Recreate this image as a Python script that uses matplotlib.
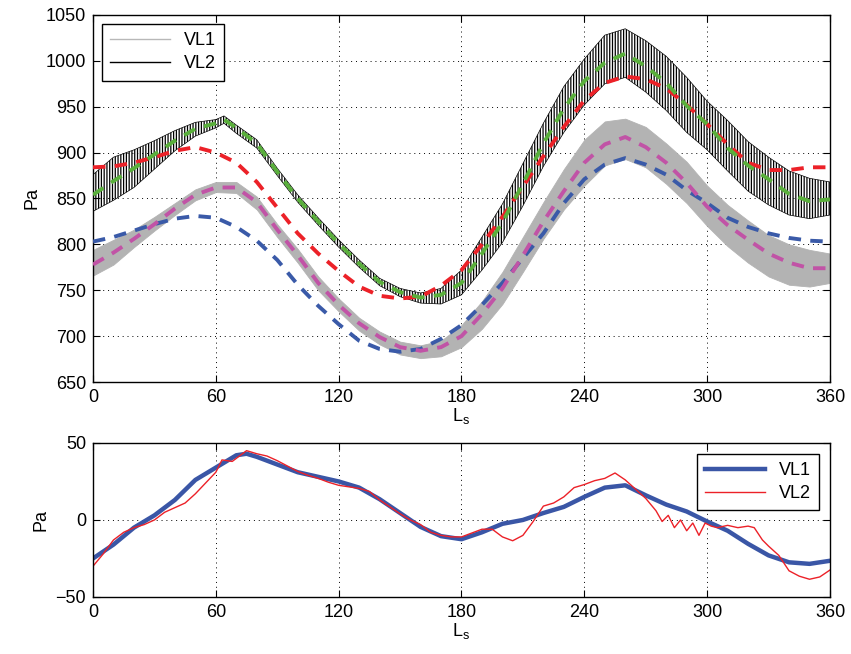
import matplotlib
matplotlib.use("Agg")
import matplotlib.pyplot as plt
from matplotlib.lines import Line2D

plt.rcParams['font.family'] = ['Liberation Sans', 'DejaVu Sans']
plt.rcParams['hatch.linewidth'] = 0.9

# ---- top panel: surface pressure (Pa) vs Ls ----
ls10 = [0, 10, 20, 30, 40, 50, 60, 70, 80, 90, 100, 110, 120, 130, 140, 150, 160, 170, 180,
        190, 200, 210, 220, 230, 240, 250, 260, 270, 280, 290, 300, 310, 320, 330, 340, 350, 360]
ls_vl2 = [0, 10, 20, 30, 40, 50, 60, 64, 70, 80, 90, 100, 110, 120, 130, 140, 150, 160, 170, 180,
          190, 200, 210, 220, 230, 240, 250, 260, 270, 280, 290, 300, 310, 320, 330, 340, 350, 360]

# VL1 observed band (gray)
vl1_low = [766, 778, 797, 815, 832, 848, 857, 856, 838, 808, 780, 750, 727, 706, 691, 680, 676, 678, 688,
           708, 735, 770, 806, 838, 864, 886, 893, 884, 866, 845, 820, 798, 780, 765, 756, 754, 758]
vl1_high = [794, 805, 816, 830, 845, 860, 868, 868, 852, 822, 795, 765, 741, 720, 705, 694, 690, 695, 712,
            738, 770, 808, 846, 882, 914, 934, 937, 928, 910, 890, 864, 843, 826, 810, 800, 794, 790]
# VL2 observed band (black)
vl2_low = [836, 848, 862, 882, 902, 918, 927, 932, 921, 905, 875, 846, 821, 797, 775, 755, 743, 736, 735, 745,
           772, 802, 842, 885, 922, 952, 975, 982, 966, 946, 922, 903, 880, 858, 843, 832, 828, 832]
vl2_high = [876, 895, 903, 913, 924, 933, 936, 940, 930, 914, 883, 854, 829, 805, 783, 763, 752, 747, 752, 772,
            808, 844, 888, 932, 972, 1002, 1028, 1035, 1022, 1005, 982, 956, 935, 912, 895, 880, 872, 868]

# dashed curves
red_fit = [884, 885, 889, 895, 902, 906, 900, 889, 868, 840, 812, 790, 771, 754, 744, 741, 743, 755, 772,
           800, 830, 863, 896, 928, 957, 976, 983, 980, 970, 952, 931, 909, 889, 881, 881, 884, 884]
blue_fit = [803, 808, 815, 822, 828, 831, 829, 819, 804, 783, 756, 733, 713, 695, 686, 683, 686, 697, 712,
            734, 758, 785, 812, 845, 871, 887, 894, 887, 876, 859, 845, 829, 819, 812, 807, 804, 803]
magenta_fit = [778, 791, 806, 822, 839, 854, 862, 862, 846, 816, 788, 758, 734, 714, 699, 688, 684, 688, 700,
               724, 752, 788, 825, 858, 889, 909, 917, 906, 889, 867, 841, 821, 805, 790, 780, 774, 774]
green_fit = [854, 869, 883, 898, 913, 926, 932, 936, 927, 910, 879, 850, 825, 801, 779, 759, 748, 742, 745, 758,
             790, 824, 866, 910, 948, 978, 998, 1008, 994, 976, 951, 931, 905, 886, 871, 855, 847, 849]

# ---- bottom panel: residuals (Pa) ----
ls_b1 = [0, 10, 20, 30, 40, 50, 60, 70, 75, 80, 90, 100, 110, 120, 130, 140, 150, 160, 170, 180,
         190, 200, 210, 220, 230, 240, 250, 260, 270, 280, 290, 300, 310, 320, 330, 340, 350, 360]
vl1_res = [-25, -16, -5, 3, 13, 26, 34, 42, 43, 41, 36, 31, 28, 25, 21, 13.5, 4.5, -4.5, -10.5, -12.5,
           -8, -2.5, 0, 4.5, 8.5, 15, 21, 22.5, 16, 10, 5.5, -1, -7, -15.5, -23, -27.5, -28.5, -26.5]
ls_b2 = [0, 5, 10, 15, 20, 25, 30, 35, 40, 45, 50, 55, 60, 63, 68, 72, 75, 80,
         85, 90, 95, 100, 105, 110, 115, 120, 125, 130, 135, 140, 145, 150, 155, 160, 165, 170, 175, 180,
         185, 190, 195, 200, 205, 210, 215, 220, 225, 230, 235, 240, 245, 250, 255, 260, 265, 270, 275,
         278, 281, 284, 287, 290, 293, 296, 299, 302, 305,
         310, 315, 320, 323, 327, 330, 335, 340, 345, 350, 355, 360]
vl2_res = [-30, -22, -13, -8, -5, -3, 0, 5, 8, 11, 17, 24, 31, 39, 38, 42, 45, 43,
           41.5, 38.5, 35, 31.5, 29, 27, 24.5, 22.5, 21.5, 20.5, 18.5, 13, 8.5, 4, 0, -3, -8, -10, -11, -11,
           -8.5, -6, -6, -11, -13.5, -10, -1, 9, 11, 15, 21, 23, 25.5, 27, 30.5, 26, 20, 14, 6,
           -1, 3, -5, 0, -7, -2, -10, -2, -4, -5,
           -3.5, -5, -4, -5, -13, -17, -23, -33, -36.5, -38.5, -37, -32.5]

xticks = [0, 60, 120, 180, 240, 300, 360]
FS = 13


def style_axes(ax):
    ax.set_xlim(0, 360)
    ax.set_xticks(xticks)
    ax.tick_params(direction='in', top=True, right=True, length=5, width=0.8,
                   labelsize=FS, pad=5)
    ax.grid(True, color='black', linestyle=(0, (1, 4)), linewidth=0.7)
    for sp in ax.spines.values():
        sp.set_linewidth(1.0)
    ax.set_xlabel('L$_\\mathregular{s}$', fontsize=FS, labelpad=0)


def boxed_legend(ax, *args, **kw):
    leg = ax.legend(*args, fontsize=FS, fancybox=False, framealpha=1, edgecolor='black',
                    handlelength=3.3, borderpad=0.45, labelspacing=0.35,
                    handletextpad=0.8, **kw)
    leg.get_frame().set_linewidth(1.0)
    return leg


fig = plt.figure(figsize=(8.51, 6.54), dpi=100)
ax1 = fig.add_axes([0.1093, 0.4159, 0.866, 0.5612])
ax2 = fig.add_axes([0.1093, 0.0872, 0.866, 0.2355])

# observed bands
ax1.fill_between(ls10, vl1_low, vl1_high, color='#b3b3b3', linewidth=0.6, zorder=2)
ax1.fill_between(ls_vl2, vl2_low, vl2_high, facecolor='none', edgecolor='black',
                 hatch='||||||', linewidth=0.5, zorder=3)

dash = dict(linewidth=2.8, dashes=(3.2, 2.4), zorder=4)
ax1.plot(ls10, red_fit, color='#ec2128', **dash)
ax1.plot(ls10, blue_fit, color='#3a5aa8', **dash)
ax1.plot(ls10, magenta_fit, color='#c153a6', **dash)
ax1.plot(ls_vl2, green_fit, color='#5aaf3c', **dash)

ax1.set_ylim(650, 1050)
ax1.set_yticks(range(650, 1051, 50))
ax1.set_ylabel('Pa', fontsize=FS)
style_axes(ax1)
handles = [Line2D([], [], color='#b8b8b8', linewidth=1.0),
           Line2D([], [], color='black', linewidth=1.0)]
boxed_legend(ax1, handles, ['VL1', 'VL2'], loc='upper left', borderaxespad=0.5)

ax2.plot(ls_b1, vl1_res, color='#3a56a6', linewidth=3.2, label='VL1')
ax2.plot(ls_b2, vl2_res, color='#ec2128', linewidth=1.0, label='VL2')
ax2.set_ylim(-50, 50)
ax2.set_yticks([-50, 0, 50])
ax2.set_ylabel('Pa', fontsize=FS)
style_axes(ax2)
boxed_legend(ax2, loc='upper right', borderaxespad=0.6)

fig.savefig('out.png', dpi=100)
plt.close(fig)
